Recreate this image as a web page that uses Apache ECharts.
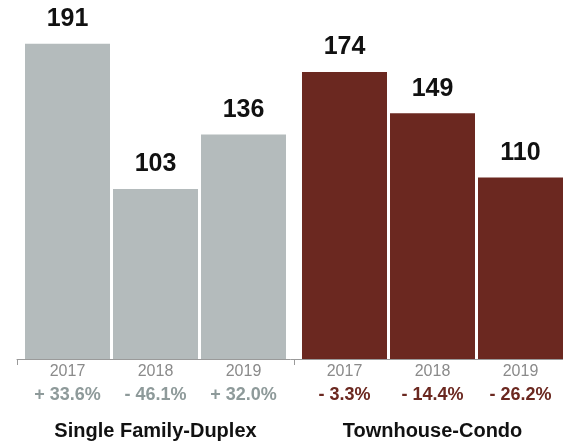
<!DOCTYPE html>
<html>
<head>
<meta charset="utf-8">
<script src="https://cdn.jsdelivr.net/npm/echarts@6/dist/echarts.min.js"></script>
<style>
  html, body { margin: 0; padding: 0; background: #ffffff; }
  #chart { width: 563px; height: 444px; }
</style>
</head>
<body>
<div id="chart"></div>
<script>
// Property groups along the x axis, years as bars inside each group
const categories = ['Single Family-Duplex', 'Townhouse-Condo'];
const years = ['2017', '2018', '2019'];
const singleFamily = [191, 103, 136];
const townhouse = [174, 149, 110];
const singleFamilyChange = ['+ 33.6%', '- 46.1%', '+ 32.0%'];
const townhouseChange = ['- 3.3%', '- 14.4%', '- 26.2%'];

const FONT = '"Liberation Sans", Arial, Helvetica, sans-serif';
const GREY = '#b4bbbc';
const RED = '#6b2820';
const groupColors = [GREY, RED];
const changeStyles = ['g', 'r'];
const groupValues = [singleFamily, townhouse];
const groupChanges = [singleFamilyChange, townhouseChange];

const BAR_W = 85;
const BAR_GAP = (3 / BAR_W * 100).toFixed(2) + '%';

const series = [];
// visible bars with the count above each
years.forEach((yr, i) => {
  series.push({
    name: yr,
    type: 'bar',
    xAxisIndex: 0,
    barWidth: BAR_W,
    barGap: BAR_GAP,
    silent: true,
    data: categories.map((c, g) => ({
      value: groupValues[g][i],
      itemStyle: { color: groupColors[g] }
    })),
    label: {
      show: true,
      position: 'top',
      distance: 12,
      fontFamily: FONT,
      fontSize: 25,
      fontWeight: 'bold',
      color: '#111111'
    }
  });
});
// same bars on a twin axis, carrying the year and change below the baseline
years.forEach((yr, i) => {
  series.push({
    name: yr + ' change',
    type: 'bar',
    xAxisIndex: 1,
    barWidth: BAR_W,
    barGap: BAR_GAP,
    silent: true,
    itemStyle: { color: 'rgba(0,0,0,0)' },
    data: categories.map((c, g) => ({
      value: groupValues[g][i],
      label: { formatter: '{y|' + yr + '}\n{' + changeStyles[g] + '|' + groupChanges[g][i] + '}' }
    })),
    label: {
      show: true,
      position: 'bottom',
      distance: 1,
      fontFamily: FONT,
      rich: {
        y: { fontFamily: FONT, fontSize: 16, lineHeight: 24, color: '#8a8a8a' },
        g: { fontFamily: FONT, fontSize: 18, lineHeight: 23, fontWeight: 'bold', color: '#8e9a9a' },
        r: { fontFamily: FONT, fontSize: 18, lineHeight: 23, fontWeight: 'bold', color: RED }
      }
    }
  });
});

const chart = echarts.init(document.getElementById('chart'), null, { renderer: 'canvas' });
chart.setOption({
  animation: false,
  backgroundColor: '#ffffff',
  grid: {
    left: 17, top: 29, width: 554, height: 330,
    containLabel: false,
    outerBoundsMode: 'none'
  },
  xAxis: [
    {
      type: 'category',
      data: categories,
      axisLine: { show: true, lineStyle: { color: '#9a9a9a', width: 1 } },
      axisTick: { show: true, length: 6, lineStyle: { color: '#9a9a9a' } },
      axisLabel: {
        margin: 62,
        fontFamily: FONT,
        fontSize: 20,
        fontWeight: 'bold',
        color: '#111111'
      },
      z: 1
    },
    {
      type: 'category',
      data: categories,
      show: false
    }
  ],
  yAxis: { type: 'value', min: 0, max: 200, show: false },
  series: series
});
</script>
</body>
</html>
